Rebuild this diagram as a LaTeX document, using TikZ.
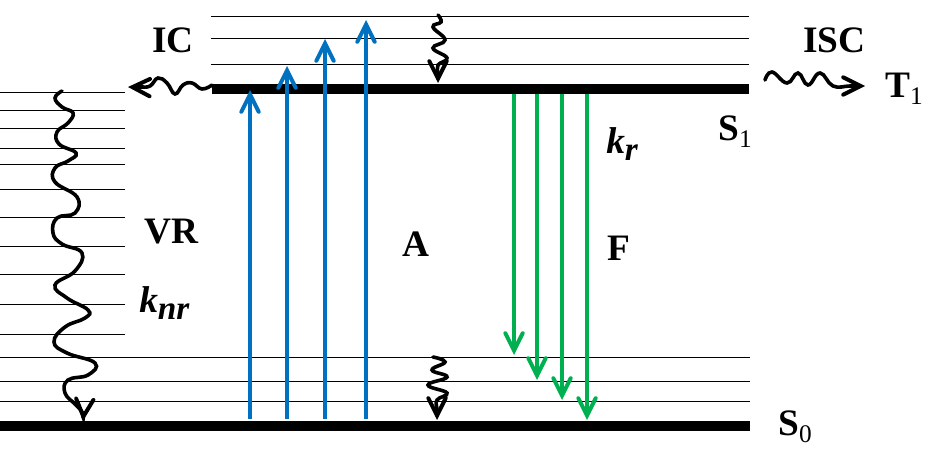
\documentclass[tikz,border=0pt]{standalone}
\usepackage{fontspec}
\setmainfont{Liberation Serif}
\usetikzlibrary{arrows.meta}
\tikzset{
    level/.style={line width=0.75pt, black},
    ground/.style={line width=7.5pt, black},
    absorb/.style={-{Straight Barb[length=13pt,width=13pt,line width=3pt,line cap=round]}, line width=2.6pt, color={rgb,255:red,0;green,112;blue,192}},
    emit/.style={-{Straight Barb[length=13pt,width=13pt,line width=3pt,line cap=round]}, line width=2.6pt, color={rgb,255:red,0;green,176;blue,80}},
    relax/.style={-{Straight Barb[length=13pt,width=13pt,line width=3pt,line cap=round]}, line width=2.7pt, line cap=round, black},
    tag/.style={anchor=base west, inner sep=0pt, font=\fontsize{28}{30}\selectfont\bfseries},
}
\newcommand{\sublab}[2]{#1\raisebox{-0.2em}{\fontsize{19}{19}\selectfont\mdseries #2}}
\begin{document}
\begin{tikzpicture}[x=0.75pt,y=-0.75pt]
    \useasboundingbox (0,0) rectangle (937,468);

    % levels
    \foreach \y in {92,110,128,148,164,189,217,246,274,304,334}
        \draw[level] (0,\y) -- (125,\y);
    \foreach \y in {16,38,64}
        \draw[level] (211,\y) -- (749,\y);
    \foreach \y in {357,381,401}
        \draw[level] (0,\y) -- (750,\y);

    \draw[ground] (212,89) -- (749,89);
    \draw[ground] (0,426) -- (750,426);

    % absorption and fluorescence
    \foreach \n/\x/\y in {1/250/90,2/287/66,3/325/39,4/366/20} {
        \coordinate (abs\n a) at (\x,419);
        \coordinate (abs\n b) at (\x,\y);
        \draw[absorb] (abs\n a) -- (abs\n b);
    }
    \foreach \n/\x/\y in {1/514/355,2/537/380,3/562/400,4/587/420} {
        \coordinate (em\n a) at (\x,94);
        \coordinate (em\n b) at (\x,\y);
        \draw[emit] (em\n a) -- (em\n b);
    }

    % wavy arrows
    \draw[relax] plot[smooth,tension=0.75] coordinates {(62,91) (55,98) (62,107) (73,113) (68,123) (57,132) (59,144) (76,153) (68,161) (55,168) (55,182) (77,197) (75,213) (57,218) (53,233) (62,244) (82,253) (75,271) (55,285) (67,298) (88,310) (85,318) (65,327) (54,342) (67,353) (95,363) (88,375) (68,380) (65,393) (76,405) (82,412) (83,421)};
    \draw[relax] plot[smooth,tension=0.75] coordinates {(212,85) (202,89) (192,83) (183,85) (175,94) (167,83) (158,78) (150,86) (140,87) (128,87)};
    \draw[relax] plot[smooth,tension=0.75] coordinates {(438,15) (441,22) (433,27) (445,40) (433,48) (447,58) (438,65) (438,74) (438,83)};
    \draw[relax] plot[smooth,tension=0.75] coordinates {(433,357) (445,362) (432,370) (447,377) (428,385) (447,393) (437,400) (437,410) (437,420)};
    \draw[relax] plot[smooth,tension=0.75] coordinates {(765,80) (772,72) (787,83) (798,73) (808,85) (820,73) (833,86) (850,86) (865,86)};

    % labels
    \node[tag] (ic) at (152,52) {IC};
    \node[tag] (isc) at (803,52) {ISC};
    \node[tag] (tone) at (885,97) {\sublab{T}{1}};
    \node[tag] (sone) at (718,140) {\sublab{S}{1}};
    \node[tag] (szero) at (778,435) {\sublab{S}{0}};
    \node[tag] (vr) at (144,243) {VR};
    \node[tag] (a) at (402,256) {A};
    \node[tag] (f) at (607,260) {F};
    \node[tag] (knr) at (139,312) {\itshape k\raisebox{-0.2em}{\fontsize{25}{25}\selectfont nr}};
    \node[tag] (kr) at (606,153) {\itshape k\raisebox{-0.2em}{\fontsize{25}{25}\selectfont r}};
\end{tikzpicture}
\end{document}
